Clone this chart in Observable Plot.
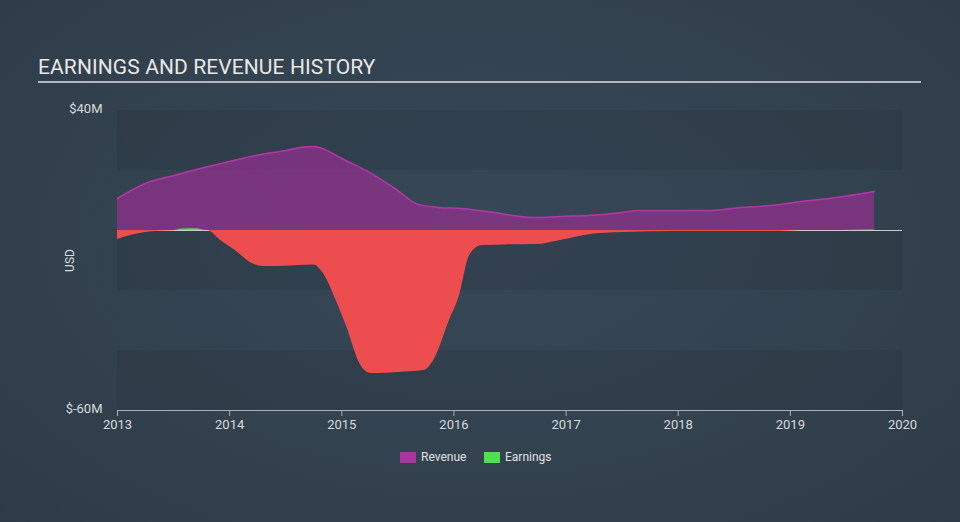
<!DOCTYPE html>
<html><head><meta charset="utf-8">
<script src="https://cdn.jsdelivr.net/npm/d3@7"></script>
<script src="https://cdn.jsdelivr.net/npm/@observablehq/plot@0.6"></script>
<style>
html,body{margin:0;padding:0;}
#wrap{position:relative;width:960px;height:522px;overflow:hidden;
background:radial-gradient(ellipse at 50% 45%, #364757 0%, #33424f 55%, #2e3a47 100%);font-family:Roboto,"Open Sans",sans-serif;}
#title{position:absolute;left:38px;top:55px;font-size:21px;color:#e8e8e8;letter-spacing:0.1px;}
#rule{position:absolute;left:38px;top:81px;width:883px;height:2px;background:#b4b6b9;}
#plot{position:absolute;left:0;top:0;}
#legend{position:absolute;top:451px;left:0;width:960px;font-size:12px;color:#e0e0e0;}
.sw{position:absolute;width:16px;height:11px;top:1px;}
.lt{position:absolute;top:-1px;}
</style></head>
<body><div id="wrap">
<div id="plot"></div>
<div id="title">EARNINGS AND REVENUE HISTORY</div>
<div id="rule"></div>
<div id="legend">
<div class="sw" style="left:400px;background:#a9369f"></div><div class="lt" style="left:421px">Revenue</div>
<div class="sw" style="left:484px;background:#4fe04f"></div><div class="lt" style="left:505px">Earnings</div>
</div>
</div>
<script>
const revYears = [2013.0,2013.25,2013.5,2013.74,2014.0,2014.23,2014.5,2014.63,2014.75,2014.83,2015.0,2015.25,2015.5,2015.68,2015.86,2016.06,2016.3,2016.73,2016.95,2017.2,2017.5,2017.66,2017.85,2018.3,2018.56,2018.83,2019.1,2019.35,2019.75];
const revValues = [10.7,15.7,18.3,20.7,23,25,26.7,27.7,28,27.3,24,19.3,13.3,8.7,7.7,7.3,6.3,4.3,4.7,5,6,6.7,6.7,6.7,7.7,8.3,9.7,10.7,13];
const earnYears = [2013.0,2013.25,2013.5,2013.58,2013.7,2013.8,2013.92,2014.05,2014.2,2014.3,2014.55,2014.75,2014.83,2014.95,2015.04,2015.17,2015.26,2015.5,2015.73,2015.82,2015.96,2016.05,2016.14,2016.25,2016.45,2016.73,2016.95,2017.22,2017.5,2017.98,2018.9,2019.1,2019.75];
const earnValues = [-3,-0.7,-0.1,0.5,0.6,0,-3.3,-6.7,-11,-12,-11.8,-11.5,-14,-23.3,-31.7,-45,-47.7,-47.3,-46.7,-43.3,-30,-21.7,-8.3,-5,-4.8,-4.7,-3.3,-1.3,-0.7,-0.3,-0.3,0,0.2];
const yTicks = [40,-60];
const xTicks = [2013,2014,2015,2016,2017,2018,2019,2020];
const bands = [{a:20,b:40},{a:-20,b:0},{a:-60,b:-40}];

const rev = revYears.map((x,i)=>({x, v:revValues[i]}));
const earn = earnYears.map((x,i)=>({x, v:earnValues[i]}));

const chart = Plot.plot({
  width:960, height:522,
  marginLeft:117, marginRight:58, marginTop:110, marginBottom:112,
  style:{background:"transparent", fontFamily:"Roboto, sans-serif", fontSize:"13px", color:"#d8dadc"},
  x:{domain:[2013,2020], ticks:xTicks, tickFormat:d=>String(d), tickSize:6, label:null},
  y:{domain:[-60,40], label:null},
  marks:[
    Plot.rectY(bands,{x1:2013,x2:2020,y1:"a",y2:"b",fill:"#141e28",fillOpacity:0.13}),
    Plot.ruleY([0],{stroke:"#c8cacc",strokeWidth:1}),
    Plot.areaY(rev,{x:"x",y1:0,y2:"v",fill:"#9a2f93",fillOpacity:0.68,curve:"monotone-x"}),
    Plot.lineY(rev,{x:"x",y:"v",stroke:"#b437aa",strokeWidth:1.5,curve:"monotone-x"}),
    Plot.areaY(earn,{x:"x",y1:0,y2:d=>Math.min(d.v,0),fill:"#ee4d50",curve:"monotone-x"}),
    Plot.areaY(earn,{x:"x",y1:0,y2:d=>Math.max(d.v,0),fill:"#4fe04f",curve:"monotone-x"}),
    Plot.ruleY([-60],{x1:2013,x2:2020,stroke:"#a9b0b8",strokeWidth:1}),
    Plot.axisX({ticks:xTicks,tickFormat:d=>String(d),tickSize:6,tickPadding:3,stroke:"#a9b0b8",color:"#d8dadc",fontSize:13,label:null}),
    Plot.axisY({ticks:yTicks,tickFormat:d=>"$"+d+"M",tickSize:0,tickPadding:15,dy:-2,color:"#d8dadc",fontSize:13,label:null}),
    Plot.text(["USD"],{frameAnchor:"left",y:-10,dx:-47,rotate:-90,fill:"#d8dadc",fontSize:12,textAnchor:"middle"})
  ]
});
document.getElementById("plot").appendChild(chart);
</script>
</body></html>
